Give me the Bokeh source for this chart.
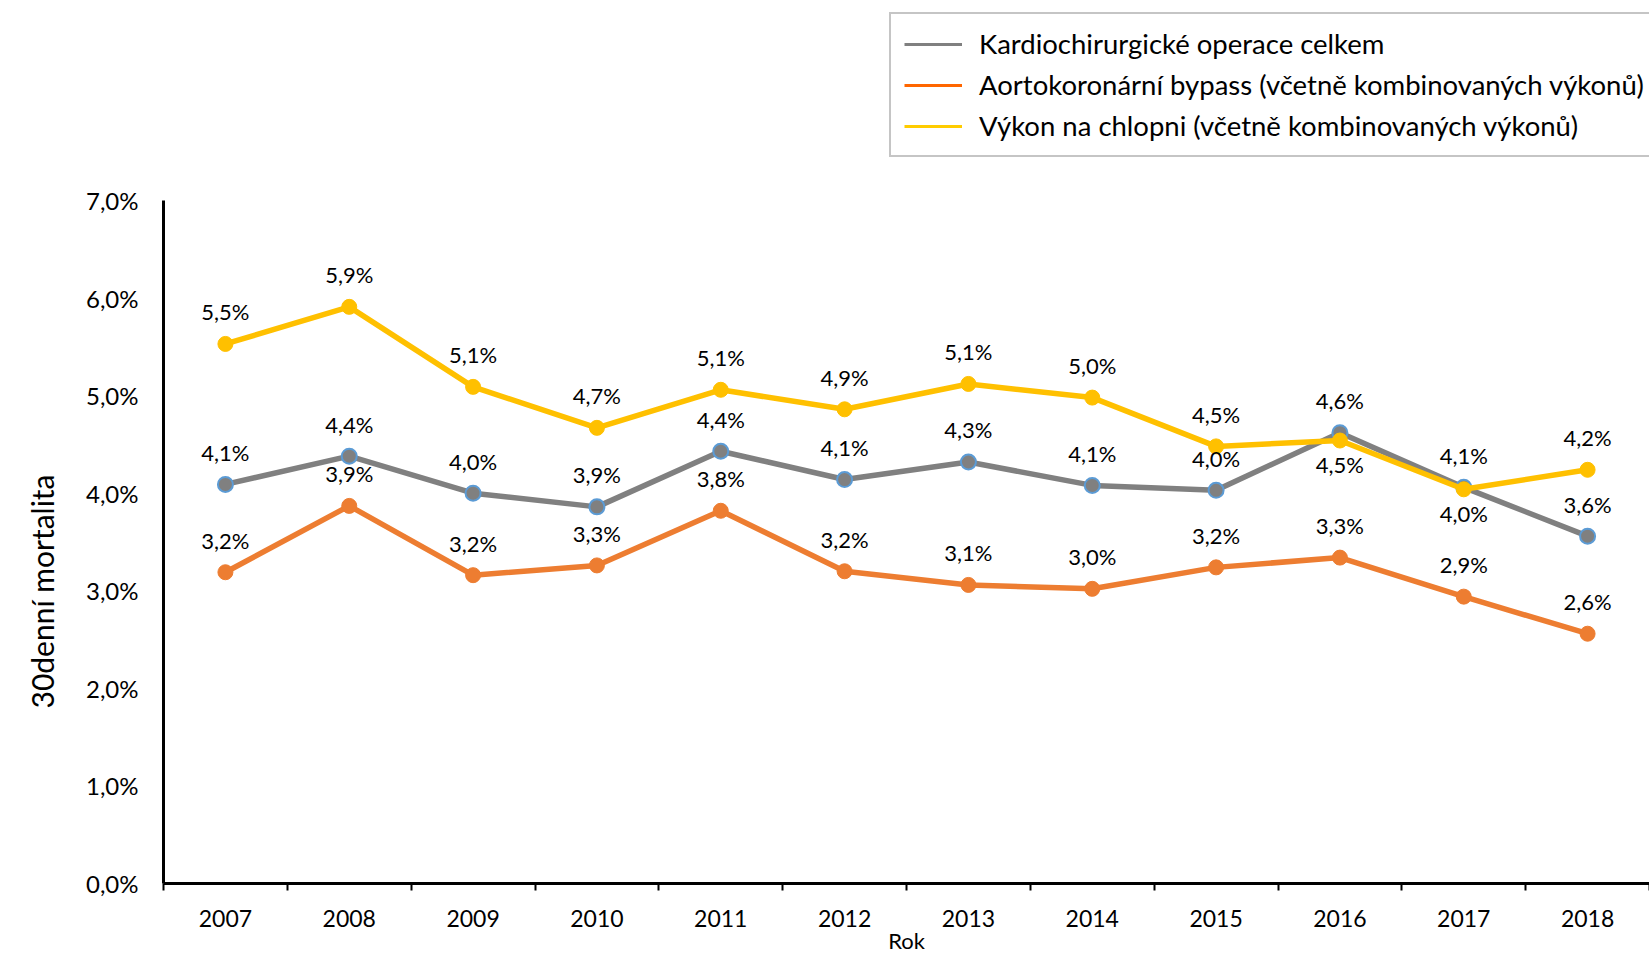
from bokeh.plotting import figure
from bokeh.models import (ColumnDataSource, Range1d, FixedTicker, LabelSet,
                          Legend, LegendItem)
from bokeh.embed import file_html
from bokeh.resources import INLINE
from bokeh.core.properties import value

# ---- data ----
years = [2007, 2008, 2009, 2010, 2011, 2012, 2013, 2014, 2015, 2016, 2017, 2018]
celkem = [4.09, 4.38, 4.00, 3.86, 4.43, 4.14, 4.32, 4.08, 4.03, 4.62, 4.06, 3.56]
bypass = [3.19, 3.87, 3.16, 3.26, 3.82, 3.20, 3.06, 3.02, 3.24, 3.34, 2.94, 2.56]
chlopne = [5.53, 5.91, 5.09, 4.67, 5.06, 4.86, 5.12, 4.98, 4.48, 4.54, 4.04, 4.24]
y_ticks = [0, 1, 2, 3, 4, 5, 6, 7]

series_names = [
    "Kardiochirurgické operace celkem",
    "Aortokoronární bypass (včetně kombinovaných výkonů)",
    "Výkon na chlopni (včetně kombinovaných výkonů)",
]
y_title = "30denní mortalita"
x_title = "Rok"
# label placement relative to the point
celkem_pos = ["above"] * 12
bypass_pos = ["above"] * 12
chlopne_pos = ["above"] * 9 + ["below", "below", "above"]

FONT = "Lato"
line_colors = ["#808080", "#ED7D31", "#FFC000"]
legend_colors = ["#808080", "#FF6600", "#FFCC00"]

# layout: the frame spans the full height so that the legend (above the
# plotted area) is inside it; the axis line is limited to 0..7 %
W, H = 1649, 957
LEFT, BOTTOM = 163, 74
AXIS_TOP = 200                      # pixel row of the 7 % level
frame_h = H - BOTTOM
y_top = y_ticks[-1] * frame_h / (frame_h - AXIS_TOP)

p = figure(width=W, height=H, output_backend="svg", toolbar_location=None,
           x_range=Range1d(years[0] - 0.5, years[-1] + 0.5),
           y_range=Range1d(0, y_top),
           title=y_title, title_location="left",
           min_border_left=LEFT, min_border_right=0,
           min_border_top=0, min_border_bottom=BOTTOM)
p.outline_line_color = None
p.xgrid.grid_line_color = None
p.ygrid.grid_line_color = None
p.background_fill_color = "white"
p.border_fill_color = "white"

# y-axis title (as the plot title on the left, placed beside the 0-7 % axis)
p.title.text_font = FONT
p.title.text_font_size = "30px"
p.title.text_font_style = "normal"
p.title.text_color = "black"
p.title.align = "left"
p.title.vertical_align = "middle"
p.title.offset = 175
p.title.standoff = 43

# x axis: labels at year centres, tick marks at category boundaries
bounds = [y - 0.5 for y in years] + [years[-1] + 0.5]
p.xaxis.ticker = FixedTicker(ticks=years, minor_ticks=bounds)
p.xaxis.major_tick_out = 0
p.xaxis.major_tick_in = 0
p.xaxis.minor_tick_out = 7
p.xaxis.minor_tick_in = 0
p.xaxis.minor_tick_line_color = "black"
p.xaxis.minor_tick_line_width = 2
p.xaxis.axis_line_color = "black"
p.xaxis.axis_line_width = 3
p.xaxis.major_label_text_font = FONT
p.xaxis.major_label_text_font_size = "23px"
p.xaxis.major_label_text_color = "black"
p.xaxis.major_label_standoff = 19
p.xaxis.axis_label = x_title
p.xaxis.axis_label_text_font = FONT
p.xaxis.axis_label_text_font_size = "22px"
p.xaxis.axis_label_text_font_style = "normal"
p.xaxis.axis_label_text_color = "black"
p.xaxis.axis_label_standoff = -3

# y axis
p.yaxis.ticker = FixedTicker(ticks=y_ticks)
p.yaxis.bounds = (y_ticks[0], y_ticks[-1])
p.yaxis.major_label_overrides = {t: f"{t:.1f}".replace(".", ",") + "%" for t in y_ticks}
p.yaxis.major_tick_out = 0
p.yaxis.major_tick_in = 0
p.yaxis.minor_tick_out = 0
p.yaxis.minor_tick_in = 0
p.yaxis.axis_line_color = "black"
p.yaxis.axis_line_width = 3
p.yaxis.major_label_text_font = FONT
p.yaxis.major_label_text_font_size = "24px"
p.yaxis.major_label_text_color = "black"
p.yaxis.major_label_standoff = 25

all_vals = [celkem, bypass, chlopne]
all_pos = [celkem_pos, bypass_pos, chlopne_pos]
offsets = {"above": 32, "below": -24}

for i, (vals, pos) in enumerate(zip(all_vals, all_pos)):
    src = ColumnDataSource(dict(
        x=years, y=vals,
        lbl=[f"{v:.1f}".replace(".", ",") + "%" for v in vals],
        off=[offsets[s] for s in pos],
    ))
    p.line("x", "y", source=src, line_color=line_colors[i], line_width=5.5)
    if i == 0:
        p.scatter("x", "y", source=src, size=15, fill_color=line_colors[i],
                  line_color="#5B9BD5", line_width=2)
    else:
        p.scatter("x", "y", source=src, size=15, fill_color=line_colors[i],
                  line_color=line_colors[i], line_width=1)
    p.add_layout(LabelSet(x="x", y="y", text="lbl", y_offset="off", source=src,
                          text_font=value(FONT), text_font_size=value("22px"),
                          text_color="black", text_align="center",
                          text_baseline="middle"))

# legend swatches: line renderers with no visible point (NaN y)
items = []
for i, name in enumerate(series_names):
    r = p.line(x=[years[0]], y=[float("nan")], line_color=legend_colors[i], line_width=3)
    items.append(LegendItem(label=name, renderers=[r]))

legend = Legend(items=items, location=(726, 726), orientation="vertical",
                label_text_font=FONT, label_text_font_size="27.5px",
                label_text_color="black",
                glyph_width=58, glyph_height=20, label_height=20,
                label_standoff=17, spacing=8, padding=13, margin=0,
                border_line_color="#8C8C8C", border_line_width=2,
                background_fill_color="white", background_fill_alpha=1)
p.add_layout(legend, "center")

open("out.html", "w").write(file_html(p, INLINE))
